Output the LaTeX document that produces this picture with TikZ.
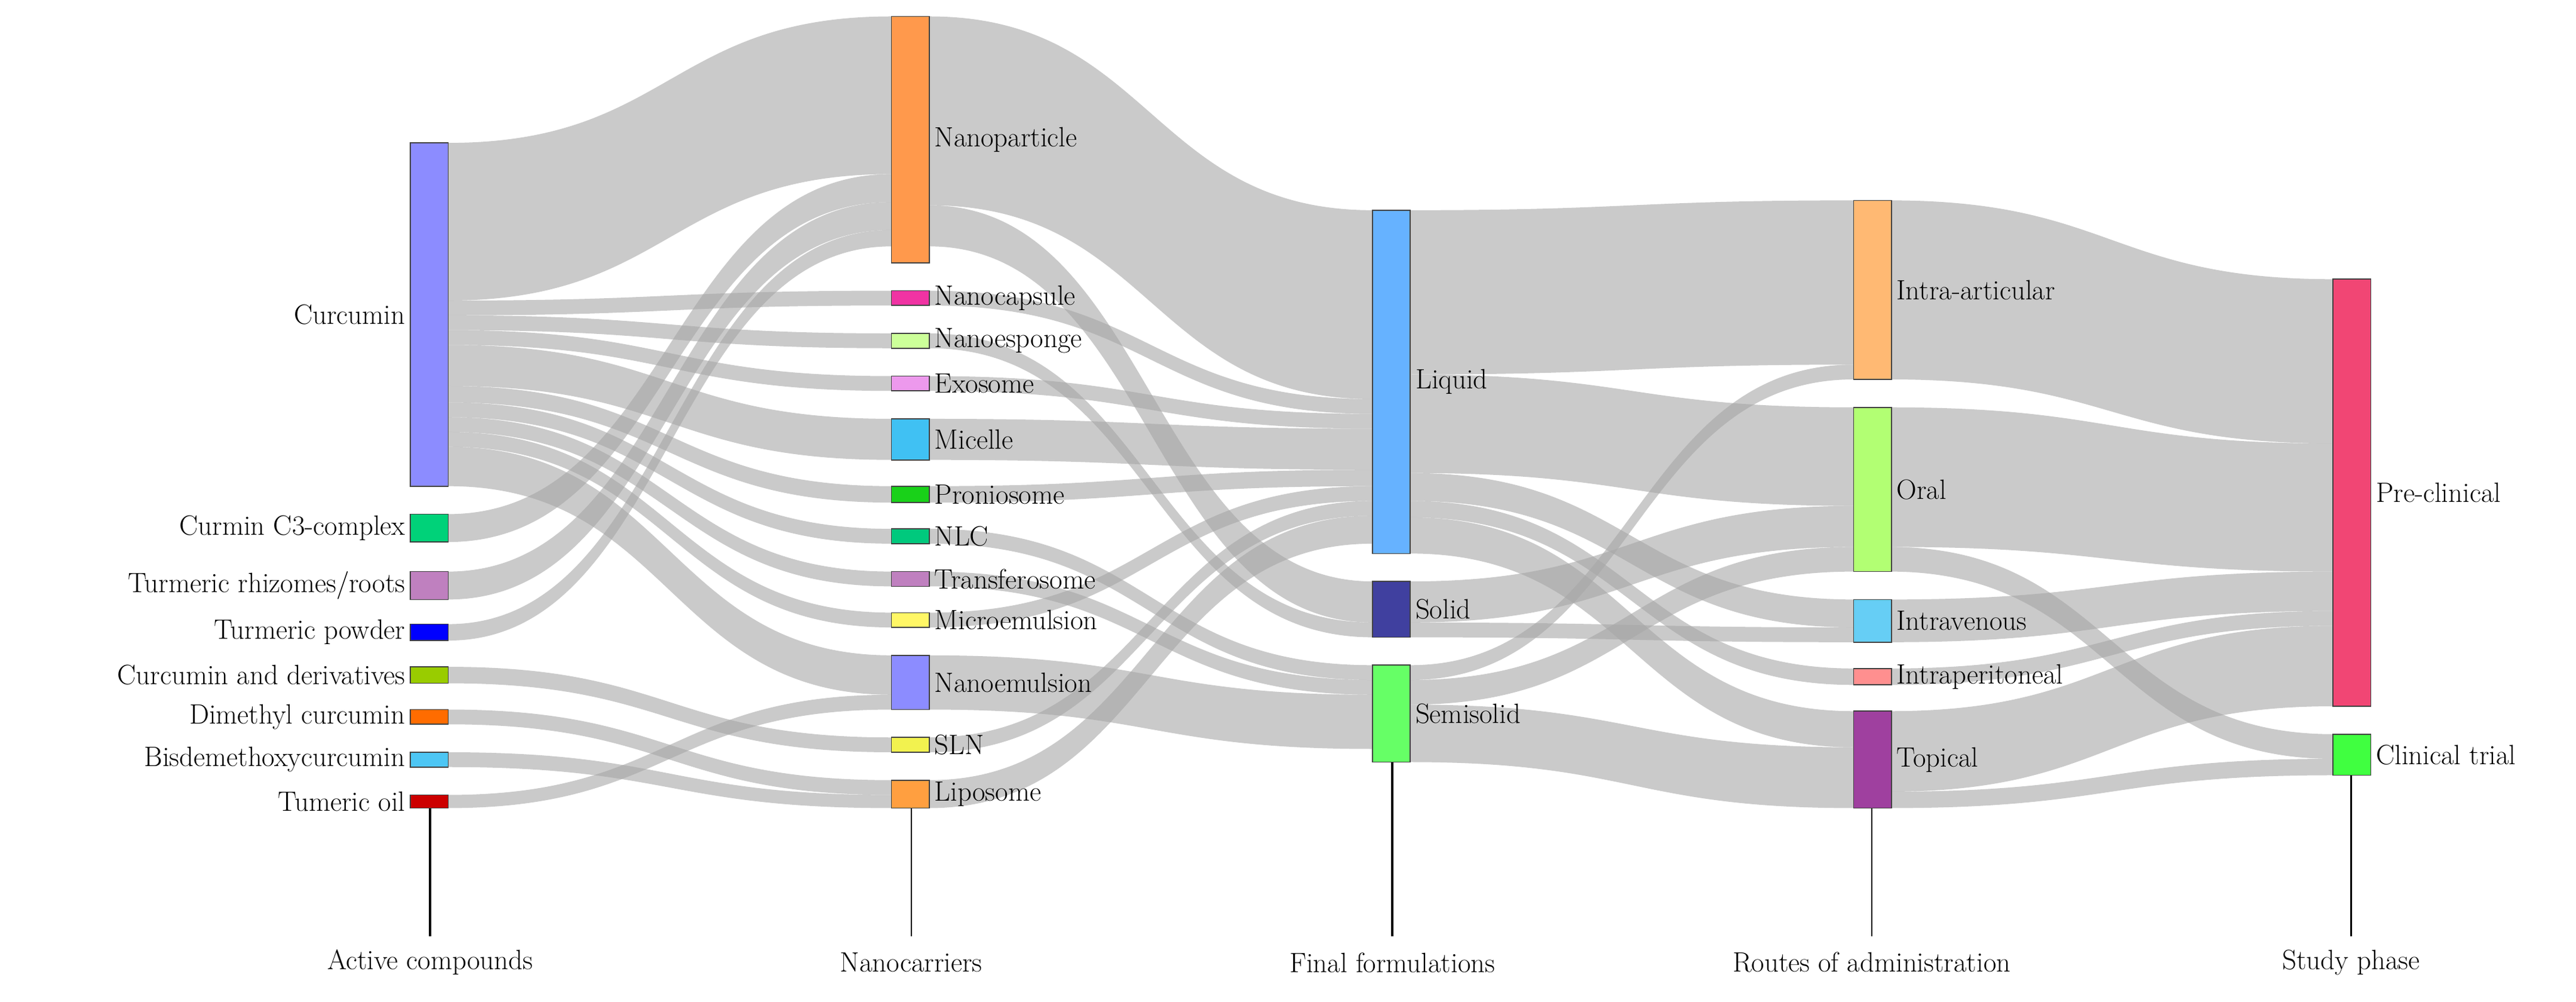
\documentclass[tikz,border=0pt]{standalone}
\usepackage{fontspec}
\begin{document}
\newcommand\flow[6]{\fill[link] (#1,#2) .. controls ({(#1+#4)/2},#2) and ({(#1+#4)/2},#5) .. (#4,#5) -- (#4,#6) .. controls ({(#1+#4)/2},#6) and ({(#1+#4)/2},#3) .. (#1,#3) -- cycle;}
\newcommand\sbar[6]{\node[bar,fill=#5,minimum height={#3-#2}] (#6) at (#1,#2) {};}
\begin{tikzpicture}[x=1pt,y=-1pt,
  link/.style={fill=black!35,opacity=0.6},
  bar/.style={draw=black!75,line width=0.6pt,anchor=north west,minimum width=23pt,inner sep=0pt,outer sep=0pt},
  lab/.style={font=\fontsize{17}{20}\selectfont,inner sep=3pt},
  ax/.style={font=\fontsize{17}{20}\selectfont,anchor=center}]
\useasboundingbox (0,0) rectangle (1569,610);
% ---- links col1 -> col2
\flow{273}{87}{183}{543}{10}{106}
\flow{273}{183}{192}{543}{177}{186}
\flow{273}{192}{201}{543}{203}{212}
\flow{273}{201}{210}{543}{229}{238}
\flow{273}{210}{235}{543}{255}{280}
\flow{273}{235}{245}{543}{296}{306}
\flow{273}{245}{254}{543}{322}{331}
\flow{273}{254}{263}{543}{348}{357}
\flow{273}{263}{272}{543}{373}{382}
\flow{273}{272}{296}{543}{399}{423}
\flow{273}{313}{330}{543}{106}{123}
\flow{273}{348}{365}{543}{123}{140}
\flow{273}{380}{390}{543}{140}{150}
\flow{273}{406}{416}{543}{449}{458}
\flow{273}{432}{441}{543}{475}{484}
\flow{273}{458}{467}{543}{484}{492}
\flow{273}{484}{492}{543}{423}{432}
% ---- col2 -> col3
\flow{566}{10}{125}{836}{128}{243}
\flow{566}{125}{150}{836}{354}{379}
\flow{566}{177}{186}{836}{243}{252}
\flow{566}{203}{212}{836}{379}{388}
\flow{566}{229}{238}{836}{252}{261}
\flow{566}{255}{280}{836}{261}{286}
\flow{566}{296}{306}{836}{286}{296}
\flow{566}{322}{331}{836}{405}{414}
\flow{566}{348}{357}{836}{414}{423}
\flow{566}{373}{382}{836}{296}{305}
\flow{566}{399}{432}{836}{423}{456}
\flow{566}{449}{458}{836}{305}{314}
\flow{566}{475}{492}{836}{314}{331}
% ---- col3 -> col4
\flow{859}{128}{228}{1129}{122}{222}
\flow{859}{228}{288}{1129}{248}{308}
\flow{859}{288}{305}{1129}{365}{382}
\flow{859}{305}{315}{1129}{407}{417}
\flow{859}{315}{337}{1129}{433}{455}
\flow{859}{354}{379}{1129}{308}{333}
\flow{859}{379}{388}{1129}{382}{391}
\flow{859}{405}{414}{1129}{222}{231}
\flow{859}{414}{429}{1129}{333}{348}
\flow{859}{429}{464}{1129}{455}{492}
% ---- col4 -> col5
\flow{1151}{122}{231}{1421}{170}{270}
\flow{1151}{248}{333}{1421}{270}{348}
\flow{1151}{333}{348}{1421}{447}{462}
\flow{1151}{365}{391}{1421}{348}{372}
\flow{1151}{407}{417}{1421}{372}{381}
\flow{1151}{433}{482}{1421}{381}{430}
\flow{1151}{482}{492}{1421}{462}{472}
% ---- axis lines
\draw[line width=1.6pt] (262,492) -- (262,570);
\draw[line width=0.8pt] (555,492) -- (555,570);
\draw[line width=1.6pt] (848,464) -- (848,570);
\draw[line width=0.8pt] (1140,492) -- (1140,570);
\draw[line width=0.8pt] (1432,472) -- (1432,570);
% ---- bars col1
\sbar{250}{87}{296}{}{blue!45!white}{curcumin}
\sbar{250}{313}{330}{}{teal!50!green!70!cyan}{c3}
\sbar{250}{348}{365}{}{violet!50!white}{rhiz}
\sbar{250}{380}{390}{}{blue}{powder}
\sbar{250}{406}{416}{}{lime!80!black}{deriv}
\sbar{250}{432}{441}{}{orange!85!red}{dimeth}
\sbar{250}{458}{467}{}{cyan!70!white}{bisd}
\sbar{250}{484}{492}{}{red!80!black}{oil}
\node[lab,anchor=east] at (curcumin.west) {Curcumin};
\node[lab,anchor=east] at (c3.west) {Curmin C3-complex};
\node[lab,anchor=east] at (rhiz.west) {Turmeric rhizomes/roots};
\node[lab,anchor=east] at (powder.west) {Turmeric powder};
\node[lab,anchor=east] at (deriv.west) {Curcumin and derivatives};
\node[lab,anchor=east] at (dimeth.west) {Dimethyl curcumin};
\node[lab,anchor=east] at (bisd.west) {Bisdemethoxycurcumin};
\node[lab,anchor=east] at (oil.west) {Tumeric oil};
% ---- bars col2
\sbar{543}{10}{160}{}{orange!60!pink}{np}
\sbar{543}{177}{186}{}{magenta!80!white}{ncap}
\sbar{543}{203}{212}{}{green!50!yellow!40!white}{nesp}
\sbar{543}{229}{238}{}{violet!35!magenta!40!white}{exo}
\sbar{543}{255}{280}{}{cyan!75!white}{mic}
\sbar{543}{296}{306}{}{green!80!black!90}{pron}
\sbar{543}{322}{331}{}{teal!60!cyan!70!green}{nlc}
\sbar{543}{348}{357}{}{violet!50!white}{trans}
\sbar{543}{373}{382}{}{yellow!60!white}{micro}
\sbar{543}{399}{432}{}{blue!45!white}{nemu}
\sbar{543}{449}{458}{}{yellow!70!lime!70!white}{sln}
\sbar{543}{475}{492}{}{orange!75!white}{lipo}
\foreach \n/\t in {np/Nanoparticle,ncap/Nanocapsule,nesp/Nanoesponge,exo/Exosome,mic/Micelle,pron/Proniosome,nlc/NLC,trans/Transferosome,micro/Microemulsion,nemu/Nanoemulsion,sln/SLN,lipo/Liposome}
  \node[lab,anchor=west] at (\n.east) {\t};
% ---- bars col3
\sbar{836}{128}{337}{}{blue!50!cyan!60!white}{liq}
\sbar{836}{354}{388}{}{blue!50!black!75!white}{sol}
\sbar{836}{405}{464}{}{green!60!white}{semi}
\foreach \n/\t in {liq/Liquid,sol/Solid,semi/Semisolid}
  \node[lab,anchor=west] at (\n.east) {\t};
% ---- bars col4
\sbar{1129}{122}{231}{}{orange!55!white}{ia}
\sbar{1129}{248}{348}{}{lime!60!green!55!white}{oral}
\sbar{1129}{365}{391}{}{cyan!60!white}{iv}
\sbar{1129}{407}{417}{}{red!50!pink!70!white}{ip}
\sbar{1129}{433}{492}{}{violet!75!white}{top}
\foreach \n/\t in {ia/Intra-articular,oral/Oral,iv/Intravenous,ip/Intraperitoneal,top/Topical}
  \node[lab,anchor=west] at (\n.east) {\t};
% ---- bars col5
\sbar{1421}{170}{430}{}{magenta!50!red!75!white}{pre}
\sbar{1421}{447}{472}{}{green!75!white}{clin}
\node[lab,anchor=west] at (pre.east) {Pre-clinical};
\node[lab,anchor=west] at (clin.east) {Clinical trial};
% ---- axis labels
\node[ax] at (262,586) {Active compounds};
\node[ax] at (555,586) {Nanocarriers};
\node[ax] at (848,586) {Final formulations};
\node[ax] at (1140,586) {Routes of administration};
\node[ax] at (1432,586) {Study phase};
\end{tikzpicture}
\end{document}
